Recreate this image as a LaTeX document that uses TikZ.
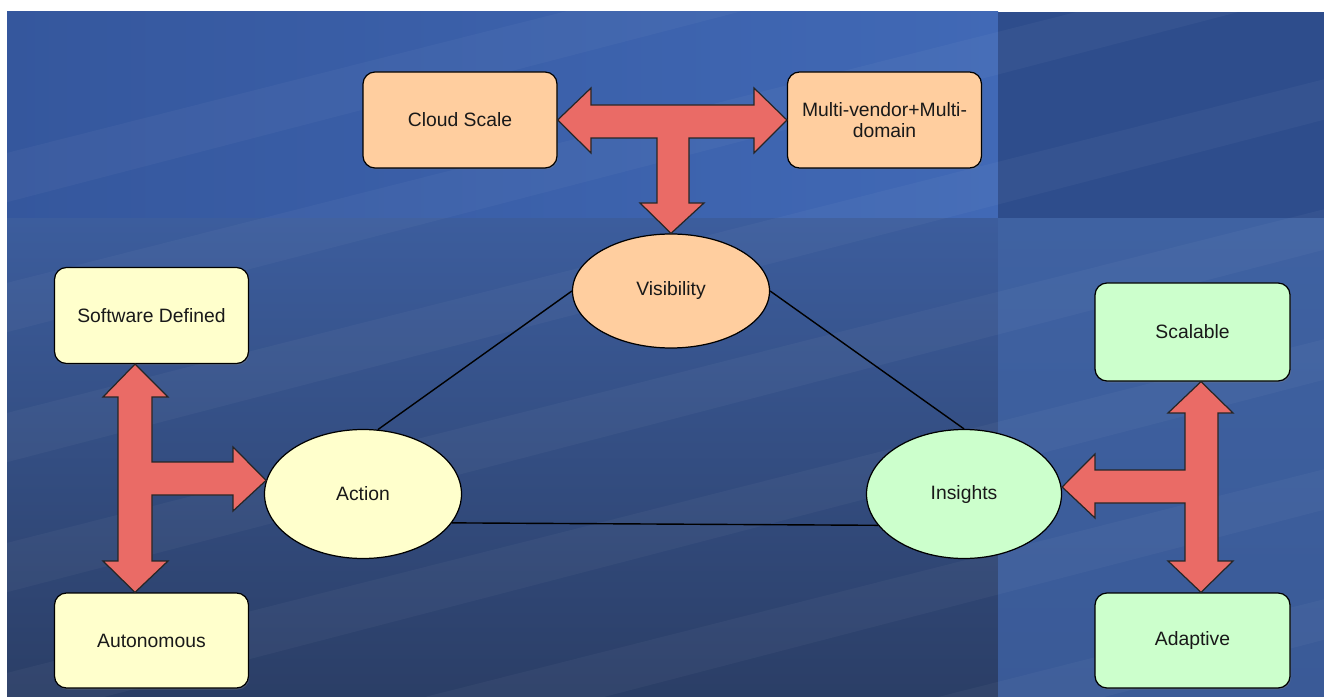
\documentclass[tikz,border=0pt]{standalone}
\usepackage{fontspec}
\setmainfont{Liberation Sans}
\usetikzlibrary{positioning,shapes.geometric,shadows}

\definecolor{peach}{HTML}{FFCE9F}
\definecolor{lemon}{HTML}{FFFFCC}
\definecolor{mint}{HTML}{CCFFCC}
\definecolor{arrowred}{HTML}{EA6B66}
\definecolor{bgTopL}{HTML}{35579D}
\definecolor{bgTopR}{HTML}{4169B6}
\definecolor{bgPanel}{HTML}{2E4D8C}
\definecolor{bgLowT}{HTML}{3C5D9D}
\definecolor{bgLowB}{HTML}{2B3E66}
\definecolor{bgSideT}{HTML}{3F62A2}
\definecolor{bgSideB}{HTML}{3A5A97}

\begin{document}
\begin{tikzpicture}[x=0.2mm,y=-0.2mm,on grid,
    box/.style={draw=black, line width=0.7pt, rounded corners=2.4mm,
      minimum width=38.8mm, minimum height=19.2mm, align=center,
      font=\fontsize{11}{12}\selectfont, text=black!90,
      drop shadow={shadow xshift=0.2mm, shadow yshift=-0.3mm, opacity=0.35}},
    oval/.style={ellipse, draw=black, line width=0.7pt,
      minimum width=39.4mm, minimum height=25.8mm,
      font=\fontsize{11}{12}\selectfont, text=black!90},
    tarrow/.style={draw=black!85, fill=arrowred, line width=0.7pt, line join=miter},
    link/.style={draw=black, line width=0.8pt},
    streak/.style={fill=white, opacity=0.035}]

  % background
  \useasboundingbox (0,0) rectangle (1324,697);
  \fill[white] (0,0) rectangle (1324,697);
  \shade[left color=bgTopL, right color=bgTopR] (7,12) rectangle (998,219);
  \fill[bgPanel] (998,12) rectangle (1324,219);
  \shade[top color=bgLowT, bottom color=bgLowB] (7,219) rectangle (998,697);
  \shade[top color=bgSideT, bottom color=bgSideB] (998,219) rectangle (1324,697);
  \begin{scope}
    \clip (7,12) rectangle (1324,697);
    \foreach \s in {0,130,260,390,520,650,780}
      \fill[streak] (-100,180+\s) -- (1400,-200+\s) -- (1400,-160+\s) -- (-100,230+\s) -- cycle;
  \end{scope}

  % nodes
  \node[oval, fill=peach, minimum height=22.8mm] (vis) at (671,291) {Visibility};
  \node[box, fill=peach, above left=34.2mm and 42.2mm of vis] (cloud) {Cloud Scale};
  \node[box, fill=peach, above right=34.2mm and 42.7mm of vis] (multi) {Multi-vendor+Multi-\\domain};
  \node[oval, fill=lemon, below left=40.6mm and 61.6mm of vis] (action) {Action};
  \node[oval, fill=mint, minimum width=39mm, below right=40.6mm and 58.6mm of vis] (insights) {Insights};
  \node[box, fill=lemon, above left=35.7mm and 42.3mm of action] (soft) {Software Defined};
  \node[box, fill=lemon, minimum height=19mm, below left=29.3mm and 42.3mm of action] (auto) {Autonomous};
  \node[box, fill=mint, minimum width=39mm, minimum height=19.6mm, above right=32.4mm and 45.7mm of insights] (scal) {Scalable};
  \node[box, fill=mint, minimum width=39mm, minimum height=19mm, below right=29.3mm and 45.7mm of insights] (adapt) {Adaptive};

  % triangle
  \draw[link] (vis.west) -- (action.77);
  \draw[link] (vis.east) -- (insights.north);
  \draw[link] (action.-18) -- (insights.200);

  % block arrows
  \draw[tarrow] (cloud.east) -- (591,88) -- (591,105) -- (754,105) -- (754,88)
    -- (multi.west) -- (754,153) -- (754,138) -- (689,138) -- (689,203)
    -- (704,203) -- (vis.north) -- (640,203) -- (657,203) -- (657,138)
    -- (591,138) -- (591,153) -- cycle;

  \coordinate (ljoin) at (135,479);
  \draw[tarrow] (soft.south -| ljoin) -- (168,397) -- (152,397) -- (152,462)
    -- (233,462) -- (233,447) -- (action.172) -- (233,511) -- (233,495)
    -- (152,495) -- (152,561) -- (168,561) -- (auto.north -| ljoin)
    -- (103,561) -- (118,561) -- (118,397) -- (103,397) -- cycle;

  \coordinate (rjoin) at (1201,487);
  \draw[tarrow] (scal.south -| rjoin) -- (1233,413) -- (1218,413) -- (1218,561)
    -- (1233,561) -- (adapt.north -| rjoin) -- (1168,561) -- (1185,561)
    -- (1185,503) -- (1095,503) -- (1095,518) -- (insights.east |- rjoin)
    -- (1095,454) -- (1095,470) -- (1185,470) -- (1185,413) -- (1168,413) -- cycle;
\end{tikzpicture}
\end{document}
